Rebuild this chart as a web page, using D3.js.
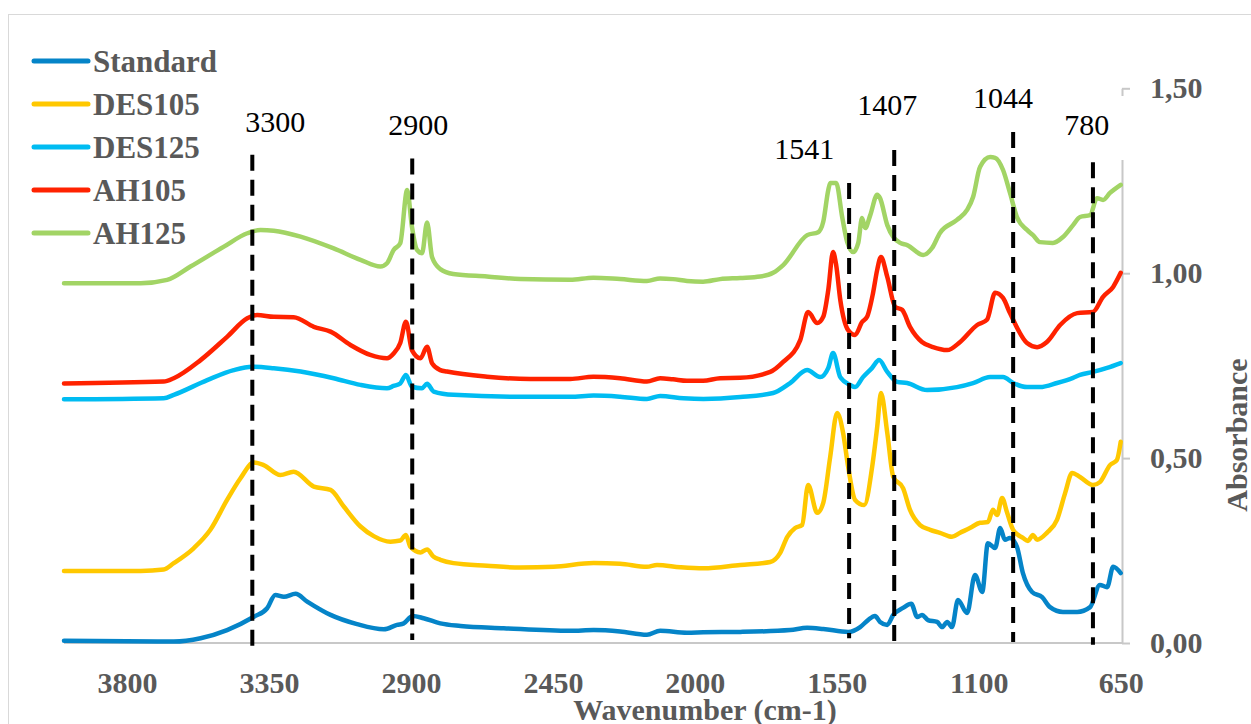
<!DOCTYPE html>
<html><head><meta charset="utf-8">
<script src="https://cdn.jsdelivr.net/npm/d3@7"></script>
<style>html,body{margin:0;padding:0;background:#fff;overflow:hidden}</style>
</head><body>
<svg id="chart" width="1251" height="724"></svg>
<script>
// ---------- data (wavenumber cm-1, absorbance) ----------
const seriesNames = ["Standard","DES105","DES125","AH105","AH125"];
const seriesColors = ["#0584c8","#ffc800","#00bcf2","#ff2200","#a2d465"];

const standard = [[4000,0.006],[3652,0.004],[3567,0.013],[3483,0.035],[3398,0.071],[3356,0.094],[3330,0.130],[3303,0.125],[3266,0.133],[3229,0.112],[3155,0.076],[3071,0.051],[2986,0.037],[2944,0.049],[2923,0.053],[2895,0.073],[2860,0.067],[2807,0.053],[2743,0.046],[2606,0.040],[2395,0.033],[2321,0.035],[2237,0.031],[2152,0.022],[2110,0.033],[2025,0.028],[1973,0.029],[1856,0.030],[1698,0.035],[1644,0.041],[1593,0.038],[1514,0.030],[1476,0.043],[1451,0.062],[1429,0.073],[1413,0.057],[1390,0.049],[1371,0.076],[1340,0.095],[1314,0.106],[1295,0.070],[1280,0.076],[1261,0.062],[1232,0.057],[1216,0.043],[1200,0.057],[1185,0.043],[1166,0.116],[1137,0.081],[1112,0.184],[1089,0.138],[1071,0.270],[1048,0.257],[1032,0.311],[1017,0.279],[1001,0.284],[979,0.260],[960,0.189],[931,0.138],[899,0.124],[874,0.097],[833,0.084],[788,0.084],[747,0.097],[716,0.157],[693,0.151],[674,0.206],[650,0.189]];

const des105 = [[4000,0.195],[3757,0.195],[3684,0.199],[3652,0.216],[3589,0.256],[3536,0.306],[3483,0.387],[3441,0.445],[3398,0.488],[3367,0.481],[3314,0.454],[3272,0.463],[3208,0.423],[3155,0.414],[3113,0.369],[3060,0.315],[3018,0.289],[2965,0.274],[2934,0.277],[2916,0.292],[2902,0.260],[2870,0.245],[2849,0.253],[2828,0.233],[2807,0.225],[2765,0.216],[2659,0.209],[2553,0.204],[2448,0.206],[2321,0.216],[2237,0.214],[2152,0.206],[2120,0.211],[2046,0.205],[1973,0.202],[1856,0.211],[1761,0.219],[1730,0.243],[1707,0.287],[1682,0.311],[1660,0.319],[1641,0.427],[1612,0.352],[1593,0.379],[1571,0.503],[1549,0.622],[1530,0.568],[1514,0.476],[1492,0.387],[1463,0.373],[1438,0.476],[1422,0.584],[1410,0.676],[1390,0.568],[1371,0.449],[1340,0.419],[1318,0.360],[1286,0.319],[1254,0.306],[1223,0.298],[1185,0.287],[1159,0.298],[1128,0.311],[1096,0.325],[1071,0.327],[1055,0.360],[1042,0.346],[1026,0.392],[1010,0.352],[991,0.306],[960,0.284],[944,0.276],[928,0.292],[915,0.279],[884,0.298],[852,0.333],[826,0.406],[804,0.460],[779,0.449],[738,0.427],[716,0.435],[684,0.481],[662,0.495],[650,0.544]];

const des125 = [[4000,0.659],[3684,0.662],[3652,0.671],[3546,0.711],[3462,0.738],[3403,0.747],[3335,0.743],[3250,0.734],[3145,0.716],[3060,0.698],[2976,0.689],[2955,0.695],[2934,0.702],[2916,0.725],[2897,0.693],[2865,0.689],[2849,0.701],[2828,0.680],[2765,0.671],[2553,0.666],[2395,0.666],[2321,0.669],[2237,0.666],[2152,0.660],[2110,0.668],[2036,0.662],[1973,0.660],[1856,0.665],[1752,0.676],[1698,0.703],[1644,0.738],[1603,0.719],[1577,0.744],[1562,0.784],[1539,0.719],[1508,0.698],[1492,0.692],[1467,0.719],[1438,0.744],[1416,0.765],[1390,0.733],[1359,0.706],[1327,0.703],[1264,0.684],[1169,0.692],[1118,0.703],[1064,0.719],[1023,0.719],[991,0.703],[947,0.692],[906,0.692],[852,0.703],[801,0.717],[779,0.725],[738,0.733],[693,0.744],[650,0.757]];

const ah105 = [[4000,0.702],[3684,0.707],[3652,0.716],[3567,0.765],[3483,0.828],[3419,0.878],[3388,0.887],[3335,0.882],[3272,0.881],[3208,0.855],[3155,0.842],[3092,0.806],[3029,0.779],[2976,0.770],[2955,0.783],[2934,0.811],[2916,0.869],[2897,0.792],[2870,0.770],[2849,0.801],[2833,0.756],[2807,0.738],[2786,0.734],[2659,0.720],[2522,0.714],[2395,0.714],[2322,0.720],[2237,0.716],[2152,0.707],[2110,0.716],[2069,0.713],[2025,0.709],[1974,0.709],[1920,0.716],[1856,0.717],[1761,0.733],[1720,0.760],[1666,0.819],[1641,0.895],[1612,0.865],[1593,0.882],[1577,0.955],[1562,1.057],[1552,1.022],[1539,0.928],[1514,0.846],[1492,0.833],[1470,0.868],[1454,0.882],[1435,0.947],[1422,1.009],[1410,1.044],[1390,0.990],[1365,0.909],[1343,0.901],[1318,0.855],[1280,0.814],[1245,0.800],[1200,0.792],[1159,0.814],[1105,0.860],[1074,0.874],[1048,0.947],[1023,0.933],[1001,0.892],[947,0.811],[915,0.800],[884,0.814],[842,0.860],[788,0.892],[738,0.895],[706,0.936],[674,0.963],[650,1.001]];

const ah125 = [[4000,0.973],[3757,0.973],[3673,0.982],[3599,1.018],[3493,1.072],[3419,1.108],[3377,1.117],[3335,1.115],[3250,1.099],[3145,1.067],[3060,1.036],[2997,1.018],[2976,1.027],[2955,1.063],[2934,1.081],[2912,1.225],[2897,1.126],[2881,1.063],[2865,1.054],[2849,1.137],[2833,1.043],[2807,1.011],[2766,0.998],[2659,0.991],[2553,0.984],[2395,0.982],[2322,0.988],[2237,0.984],[2152,0.979],[2110,0.986],[2069,0.984],[2025,0.979],[1974,0.977],[1920,0.984],[1856,0.987],[1793,0.991],[1752,1.001],[1720,1.022],[1644,1.103],[1609,1.111],[1593,1.139],[1577,1.225],[1571,1.244],[1552,1.244],[1533,1.152],[1517,1.084],[1498,1.057],[1482,1.082],[1470,1.149],[1460,1.122],[1444,1.157],[1422,1.212],[1413,1.203],[1390,1.130],[1371,1.098],[1349,1.082],[1327,1.076],[1276,1.049],[1248,1.068],[1223,1.109],[1169,1.144],[1137,1.171],[1118,1.206],[1096,1.287],[1064,1.314],[1048,1.312],[1023,1.279],[1001,1.217],[979,1.152],[947,1.117],[928,1.103],[906,1.084],[865,1.082],[833,1.098],[801,1.130],[779,1.152],[747,1.157],[725,1.203],[706,1.198],[684,1.217],[650,1.239]];

const seriesData = [standard, des105, des125, ah105, ah125];

const xTicks = [3800,3350,2900,2450,2000,1550,1100,650];
const yTicks = [0, 0.5, 1.0, 1.5];

// annotation markers (dashed lines) in data units
const annoLabels    = ["3300","2900","1541","1407","1044","780"];
const annoLineWn    = [3403, 2896, 1511, 1368, 991, 738];
const annoLineTop   = [1.320, 1.310, 1.244, 1.333, 1.382, 1.300];
const annoLineBot   = [-0.013, 0.008, 0.013, 0.003, 0.003, -0.005];
const annoLabelWn   = [3330, 2877, 1653, 1390, 1023, 758];
const annoLabelAbs  = [1.382, 1.374, 1.309, 1.428, 1.447, 1.374];

const xTitle = "Wavenumber (cm-1)";
const yTitle = "Absorbance";

// ---------- drawing ----------
const svg = d3.select("#chart");
const serif = "'Liberation Serif','Times New Roman',serif";
const grey = "#595959";
const axisGrey = "#c8c8c8";

// chart border
svg.append("rect").attr("x",8.5).attr("y",14.5).attr("width",1400).attr("height",900)
  .attr("fill","none").attr("stroke","#d9d9d9").attr("stroke-width",1);

const x = d3.scaleLinear().domain([4000,650]).range([64,1120.7]);
const y = d3.scaleLinear().domain([0,1.5]).range([643,88.3]);

// x axis
const xAxis = svg.append("g").attr("transform","translate(0,643)")
  .call(d3.axisBottom(x).tickValues(xTicks).tickSize(0).tickPadding(29).tickFormat(d3.format("d")));
xAxis.select(".domain").remove();
svg.append("line").attr("x1",64).attr("x2",1122).attr("y1",643).attr("y2",643)
  .attr("stroke",axisGrey).attr("stroke-width",2);
xAxis.selectAll("text").attr("font-family",serif).attr("font-weight","bold")
  .attr("font-size","30px").attr("fill",grey);

// y axis (right)
const yAxis = svg.append("g").attr("transform","translate(1122,0)")
  .call(d3.axisRight(y).tickValues(yTicks).tickSize(8).tickSizeOuter(0).tickPadding(20)
    .tickFormat(d => d3.format(".2f")(d).replace(".",",")));
yAxis.select(".domain").attr("stroke",axisGrey).attr("stroke-width",2);
yAxis.selectAll(".tick line").attr("stroke",axisGrey).attr("stroke-width",2);
yAxis.selectAll("text").attr("font-family",serif).attr("font-weight","bold")
  .attr("font-size","30px").attr("fill",grey);
// gap in the axis line (covered by a text box in the original)
svg.append("rect").attr("x",1117).attr("y",96).attr("width",10).attr("height",64).attr("fill","#fff");

// series
const line = d3.line().x(d => x(d[0])).y(d => y(d[1])).curve(d3.curveMonotoneX);
seriesData.forEach((s,i) => {
  svg.append("path").datum(s).attr("d",line).attr("fill","none")
    .attr("stroke",seriesColors[i]).attr("stroke-width",4.5)
    .attr("stroke-linejoin","round").attr("stroke-linecap","round");
});

// dashed markers
annoLineWn.forEach((w,i) => {
  svg.append("line").attr("x1",x(w)).attr("x2",x(w))
    .attr("y1",y(annoLineTop[i])).attr("y2",y(annoLineBot[i]))
    .attr("stroke","#000").attr("stroke-width",4).attr("stroke-dasharray","16,9");
});
annoLabels.forEach((t,i) => {
  svg.append("text").attr("x",x(annoLabelWn[i])).attr("y",y(annoLabelAbs[i]))
    .attr("text-anchor","middle").attr("font-family",serif).attr("font-size","30px")
    .attr("fill","#000").text(t);
});

// legend
const legY0 = 61, legStep = 43;
seriesNames.forEach((n,i) => {
  const yy = legY0 + i*legStep;
  svg.append("line").attr("x1",34).attr("x2",88).attr("y1",yy).attr("y2",yy)
    .attr("stroke",seriesColors[i]).attr("stroke-width",5).attr("stroke-linecap","round");
  svg.append("text").attr("x",93).attr("y",yy+11).attr("font-family",serif)
    .attr("font-weight","bold").attr("font-size","31px").attr("fill",grey).text(n);
});

// axis titles
svg.append("text").attr("x",705).attr("y",720).attr("text-anchor","middle")
  .attr("font-family",serif).attr("font-weight","bold").attr("font-size","30px")
  .attr("fill",grey).text(xTitle);
svg.append("text").attr("transform","translate(1247,435) rotate(-90)").attr("text-anchor","middle")
  .attr("font-family",serif).attr("font-weight","bold").attr("font-size","30px")
  .attr("fill",grey).text(yTitle);
</script>
</body></html>
